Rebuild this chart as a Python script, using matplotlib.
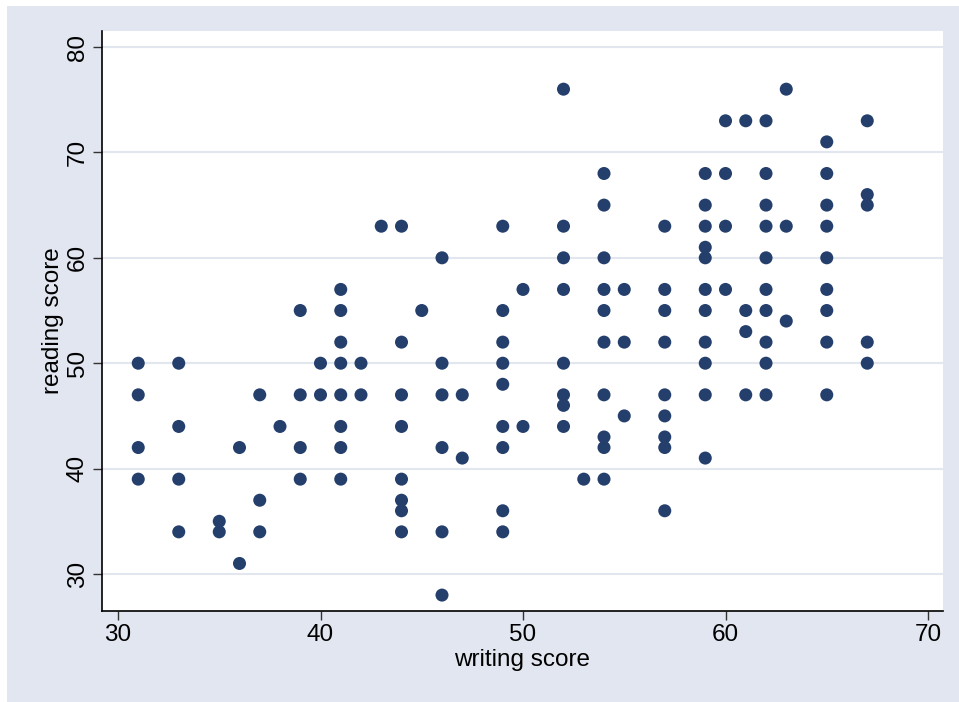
import matplotlib.pyplot as plt
from matplotlib.patches import Rectangle

plt.rcParams['font.family'] = ['Liberation Sans', 'DejaVu Sans']

# writing score -> reading scores seen at that writing score
write = [31, 33, 35, 36, 37, 38, 39, 40, 41, 42, 43, 44, 45, 46, 47, 49, 50,
         52, 53, 54, 55, 57, 59, 60, 61, 62, 63, 65, 67]
read = [
    [50, 47, 42, 39],
    [50, 44, 39, 34],
    [35, 34],
    [42, 31],
    [47, 37, 34],
    [44],
    [55, 47, 42, 39],
    [50, 47],
    [57, 55, 52, 50, 47, 44, 42, 39],
    [50, 47],
    [63],
    [63, 52, 47, 44, 39, 37, 36, 34],
    [55],
    [60, 50, 47, 42, 34, 28],
    [47, 41],
    [63, 55, 52, 50, 48, 44, 42, 36, 34],
    [57, 44],
    [76, 63, 60, 57, 50, 47, 46, 44],
    [39],
    [68, 65, 60, 57, 55, 52, 47, 43, 42, 39],
    [57, 52, 45],
    [63, 57, 55, 52, 47, 45, 43, 42, 36],
    [68, 65, 63, 61, 60, 57, 55, 52, 50, 47, 41],
    [73, 68, 63, 57],
    [73, 55, 53, 47],
    [73, 68, 65, 63, 60, 57, 55, 52, 50, 47],
    [76, 63, 54],
    [71, 68, 65, 63, 60, 57, 55, 52, 47],
    [73, 66, 65, 52, 50],
]
xticks = [30, 40, 50, 60, 70]
yticks = [30, 40, 50, 60, 70, 80]

xs = [w for w, rs in zip(write, read) for r in rs]
ys = [r for rs in read for r in rs]

W, H = 959, 702
fig = plt.figure(figsize=(W / 100, H / 100), dpi=100)
fig.patch.set_facecolor('white')
bg = Rectangle((7 / W, 0), 1, 1 - 6 / H, transform=fig.transFigure,
               facecolor='#e2e6f0', edgecolor='none', zorder=-10)
fig.add_artist(bg)

ax = fig.add_axes([102 / W, (H - 611) / H, 841 / W, 580 / H])
ax.set_facecolor('white')
ax.scatter(xs, ys, s=88, color='#253f6d', edgecolors='none', zorder=3)

ax.set_xlim(29.21, 70.74)
ax.set_ylim(26.49, 81.52)
ax.set_xticks(xticks)
ax.set_yticks(yticks)
ax.set_yticklabels([str(t) for t in yticks], rotation=90, va='center')
ax.grid(axis='y', color='#e1e6ef', linewidth=1.5, zorder=1)
ax.tick_params(direction='out', length=6.5, width=1, color='#333333',
               labelsize=17.5, pad=3)
for side in ['top', 'right']:
    ax.spines[side].set_visible(False)
for side in ['left', 'bottom']:
    ax.spines[side].set_linewidth(1.2)
    ax.spines[side].set_color('black')

ax.set_xlabel('writing score', fontsize=17.5, labelpad=2)
ax.set_ylabel('reading score', fontsize=17.5, labelpad=2)

fig.savefig('out.png', dpi=100)
